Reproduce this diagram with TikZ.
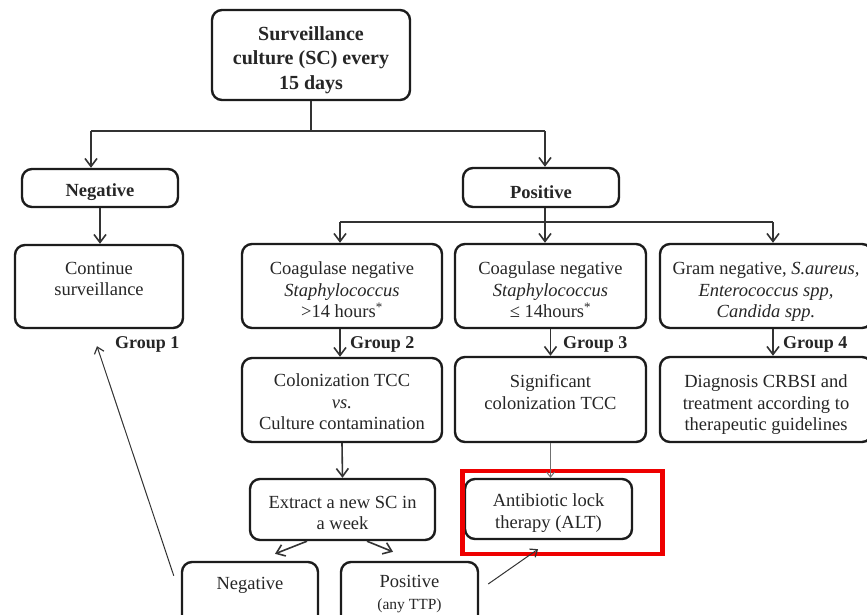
\documentclass[tikz,border=0pt]{standalone}
\usepackage{fontspec}
\setmainfont{Liberation Serif}
\usetikzlibrary{arrows.meta,calc}
\definecolor{ink}{HTML}{1C1C1C}
\definecolor{lnk}{HTML}{333333}
\definecolor{txt}{HTML}{262626}
\definecolor{hired}{HTML}{EE0000}
\newcommand\firstup[1]{\rule{0pt}{#1pt}}
\begin{document}
\begin{tikzpicture}[x=1pt,y=-1pt,
  box/.style={draw=ink, line width=2.4pt, rounded corners=10pt, align=center, inner sep=2pt, text=txt, font=\fontsize{18.5}{21.5}\selectfont},
  boldbox/.style={box, font=\bfseries\fontsize{18.5}{22}\selectfont},
  conn/.style={draw=lnk, line width=1.6pt},
  arr/.style={conn, -{Straight Barb[length=8pt,width=12pt,line width=1.6pt]}},
  thinarr/.style={draw=lnk, line width=1pt, -{Straight Barb[length=6pt,width=10pt,line width=1.2pt]}},
  grp/.style={font=\bfseries\fontsize{18}{22}\selectfont, text=txt, anchor=west, inner sep=0pt}
]
\clip (0,0) rectangle (867,614);
\useasboundingbox (0,0) rectangle (867,614);
\fill[white] (0,0) rectangle (867,614);

% boxes
\node[box, minimum width=198pt, minimum height=90pt, font=\bfseries\fontsize{20}{24.5}\selectfont] (top) at (311,55) {\firstup{24}Surveillance\\culture (SC) every\\15 days};
\node[boldbox, minimum width=156pt, minimum height=38pt] (neg) at (100,188) {\firstup{21}Negative};
\node[boldbox, minimum width=156pt, minimum height=39pt] (pos) at (541,187.5) {\firstup{23}Positive};
\node[box, minimum width=168pt, minimum height=83pt] (cont) at (99,286.5) {Continue\\surveillance\\[-6pt]\mbox{}};
\node[box, minimum width=200pt, minimum height=84pt] (cn1) at (342,286) {\firstup{21}Coagulase negative\\\textit{Staphylococcus}\\>14 hours\textsuperscript{*}};
\node[box, minimum width=191pt, minimum height=84pt] (cn2) at (550.5,286) {\firstup{21}Coagulase negative\\\textit{Staphylococcus}\\≤ 14hours\textsuperscript{*}};
\node[box, minimum width=212pt, minimum height=84pt] (gram) at (766,286) {\firstup{24}Gram negative, \textit{S.aureus,}\\\textit{Enterococcus spp,}\\\textit{Candida spp.}};
\node[box, minimum width=200pt, minimum height=84pt] (col) at (342,400) {\firstup{17}Colonization TCC\\\textit{vs.}\\Culture contamination};
\node[box, minimum width=191pt, minimum height=85pt] (sig) at (550.5,399.5) {Significant\\colonization TCC\\[-6pt]\mbox{}};
\node[box, minimum width=212pt, minimum height=85pt] (diag) at (766,399.5) {\firstup{23}Diagnosis CRBSI and\\treatment according to\\therapeutic guidelines};
\node[box, minimum width=185pt, minimum height=61pt] (ext) at (342.5,509.5) {\firstup{19}Extract a new SC in\\a week};
\node[box, minimum width=167pt, minimum height=60pt] (alt) at (548.5,509) {\firstup{21}Antibiotic lock\\therapy (ALT)};
\node[box, minimum width=136pt, minimum height=64pt] (neg2) at (250,594) {Negative\\\mbox{}};
\node[box, minimum width=137pt, minimum height=64pt] (pos2) at (409.5,594) {Positive\\{\fontsize{15.5}{16}\selectfont(any TTP)}};

% highlight
\node[draw=hired, line width=4.5pt, minimum width=200pt, minimum height=83pt, inner sep=0pt] (hl) at (562.5,512.5) {};

% group labels
\node[grp] (g1) at (115,344) {Group 1};
\node[grp] (g2) at (350,344) {Group 2};
\node[grp] (g3) at (563,344) {Group 3};
\node[grp] (g4) at (783,344) {Group 4};

% connectors
\coordinate (jn) at (91,131);
\coordinate (jp) at (545,131);
\draw[conn] (top.south) -- (top.south |- jn);
\draw[conn] (jn) -- (jp);
\draw[arr] (jn) -- (jn |- neg.north);
\draw[arr] (jp) -- (jp |- pos.north);
\draw[arr] (neg.south) -- (neg.south |- cont.north);

\coordinate (h2) at (340,222);
\coordinate (h3) at (545,222);
\coordinate (h4) at (773,222);
\draw[conn] (h3 |- pos.south) -- (h3);
\draw[conn] (h2) -- (h4);
\draw[arr] (h2) -- (h2 |- cn1.north);
\draw[arr] (h3) -- (h3 |- cn2.north);
\draw[arr] (h4) -- (h4 |- gram.north);

\draw[arr] (h2 |- cn1.south) -- (h2 |- col.north);
\draw[arr] (cn2.south) -- (cn2.south |- sig.north);
\draw[arr] (h4 |- gram.south) -- (h4 |- diag.north);
\draw[arr] (col.south) -- (ext.north);
\draw[draw=lnk!70, line width=1pt, -{Straight Barb[length=5pt,width=8pt,line width=1pt]}] (sig.south) -- (sig.south |- alt.north);

\draw[arr] ($(ext.south)+(-35.5,0)$) -- ($(neg2.north)+(25,-7)$);
\draw[arr] ($(ext.south)+(24.5,0)$) -- ($(pos2.north)+(-16.5,-9)$);
\draw[thinarr] ($(neg2.north west)+(-7,15)$) -- ($(cont.south)+(-2,17)$);
\draw[thinarr] ($(pos2.east)+(9,-10)$) -- ($(alt.south)+(-10.5,9)$);
\end{tikzpicture}
\end{document}
